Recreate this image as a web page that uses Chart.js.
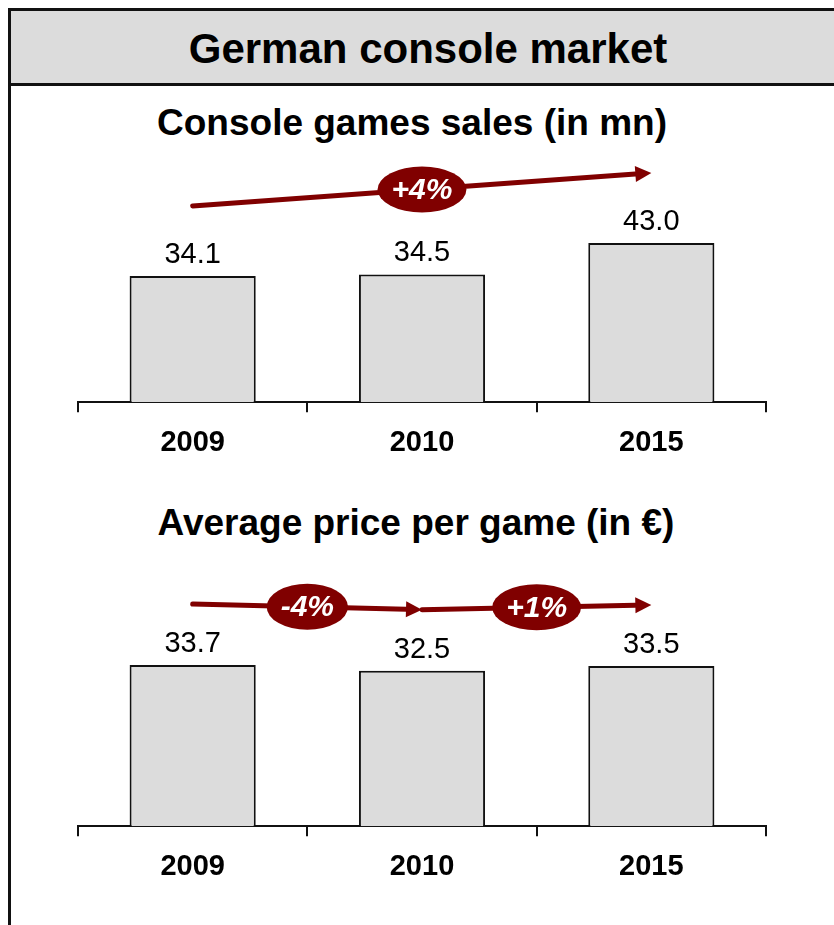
<!DOCTYPE html>
<html>
<head>
<meta charset="utf-8">
<script src="https://cdn.jsdelivr.net/npm/chart.js@4.4.1/dist/chart.umd.min.js"></script>
<style>
  html, body { margin: 0; padding: 0; background: #fff; width: 834px; height: 925px; overflow: hidden; }
  body { position: relative; font-family: 'Liberation Sans', Arial, sans-serif; color: #000; }
  .frame { position: absolute; left: 8px; top: 8px; width: 1000px; height: 1000px;
           border-left: 3px solid #111; border-top: 3px solid #111; }
  .header { position: absolute; left: 11px; top: 11px; width: 1000px; height: 72px;
            background: #dcdcdc; border-bottom: 3px solid #111; }
  .txt { position: absolute; left: 0; text-align: center; font-weight: bold; white-space: nowrap; }
  .title { font-size: 42px; line-height: 42px; top: 28px; width: 856px; }
  .sub { font-size: 37px; line-height: 37px; }
  canvas { position: absolute; left: 0; }
</style>
</head>
<body>
<div class="frame"></div>
<div class="header"></div>
<div class="txt title">German console market</div>
<div class="txt sub" style="top:104px;width:824px">Console games sales (in mn)</div>
<div class="txt sub" style="top:504px;width:832px">Average price per game (in €)</div>
<canvas id="salesChart" width="834" height="330" style="top:150px"></canvas>
<canvas id="priceChart" width="834" height="340" style="top:560px"></canvas>
<script>
const categories = ['2009', '2010', '2015'];
const salesValues = [34.1, 34.5, 43.0];
const priceValues = [33.7, 32.5, 33.5];

// growth arrows: [from index, to index] and the label in the bubble
const salesGrowthSpans = [[0, 2]];
const salesGrowthLabels = ['+4%'];
const priceGrowthSpans = [[0, 1], [1, 2]];
const priceGrowthLabels = ['-4%', '+1%'];

const FONT = "'Liberation Sans', Arial, sans-serif";
const ARROW_RED = '#800000';

/* value labels above bars */
const valueLabels = {
  id: 'valueLabels',
  afterDatasetsDraw(chart) {
    const { ctx } = chart;
    const meta = chart.getDatasetMeta(0);
    const data = chart.data.datasets[0].data;
    ctx.save();
    ctx.font = `29px ${FONT}`;
    ctx.fillStyle = '#000';
    ctx.textAlign = 'center';
    ctx.textBaseline = 'alphabetic';
    meta.data.forEach((bar, i) => {
      ctx.fillText(data[i].toFixed(1), bar.x, bar.y - 13);
    });
    ctx.restore();
  },
};

/* red growth arrows with an oval label */
const growthArrows = {
  id: 'growthArrows',
  afterDatasetsDraw(chart, _args, opts) {
    const { ctx } = chart;
    const meta = chart.getDatasetMeta(0);
    const spans = opts.spans || [];
    ctx.save();
    ctx.lineCap = 'round';
    spans.forEach(([a, b], i) => {
      const x0 = meta.data[a].x, y0 = meta.data[a].y - opts.offset;
      const x1 = meta.data[b].x, y1 = meta.data[b].y - opts.offset;
      const ang = Math.atan2(y1 - y0, x1 - x0);
      const headLen = 16, headW = 8;
      const bx = x1 - headLen * Math.cos(ang), by = y1 - headLen * Math.sin(ang);

      ctx.strokeStyle = ARROW_RED;
      ctx.fillStyle = ARROW_RED;
      ctx.lineWidth = 5;
      ctx.beginPath();
      ctx.moveTo(x0, y0);
      ctx.lineTo(bx, by);
      ctx.stroke();

      ctx.beginPath();
      ctx.moveTo(x1, y1);
      ctx.lineTo(bx + headW * Math.sin(ang), by - headW * Math.cos(ang));
      ctx.lineTo(bx - headW * Math.sin(ang), by + headW * Math.cos(ang));
      ctx.closePath();
      ctx.fill();

      const mx = (x0 + x1) / 2, my = (y0 + y1) / 2;
      ctx.font = `italic bold 30px ${FONT}`;
      const tw = ctx.measureText(opts.labels[i]).width;
      ctx.beginPath();
      ctx.ellipse(mx, my, tw / 2 + 14, 23, 0, 0, Math.PI * 2);
      ctx.fill();

      ctx.fillStyle = '#fff';
      ctx.textAlign = 'center';
      ctx.textBaseline = 'middle';
      ctx.fillText(opts.labels[i], mx, my + 1);
    });
    ctx.restore();
  },
};

function makeChart(id, values, yMax, padding, spans, labels, offset) {
  return new Chart(document.getElementById(id), {
    type: 'bar',
    data: {
      labels: categories,
      datasets: [{
        data: values,
        backgroundColor: '#dcdcdc',
        borderColor: '#111',
        borderWidth: 2,
        barPercentage: 0.55,
        categoryPercentage: 1,
      }],
    },
    options: {
      responsive: false,
      devicePixelRatio: 1,
      animation: false,
      layout: { padding },
      plugins: {
        legend: { display: false },
        tooltip: { enabled: false },
        growthArrows: { spans, labels, offset },
      },
      scales: {
        x: {
          grid: { offset: true, drawOnChartArea: false, drawTicks: true, tickLength: 10, color: '#111', lineWidth: 2 },
          border: { display: true, color: '#111', width: 2 },
          ticks: { color: '#000', padding: 13, font: { family: FONT, size: 29, weight: 'bold' } },
        },
        y: { display: false, min: 0, max: yMax },
      },
    },
    plugins: [valueLabels, growthArrows],
  });
}

makeChart('salesChart', salesValues, 60, { left: 78, right: 68, top: 30, bottom: 7 },
  salesGrowthSpans, salesGrowthLabels, 70);
makeChart('priceChart', priceValues, 50, { left: 78, right: 68, top: 27, bottom: 3 },
  priceGrowthSpans, priceGrowthLabels, 61);
</script>
</body>
</html>
